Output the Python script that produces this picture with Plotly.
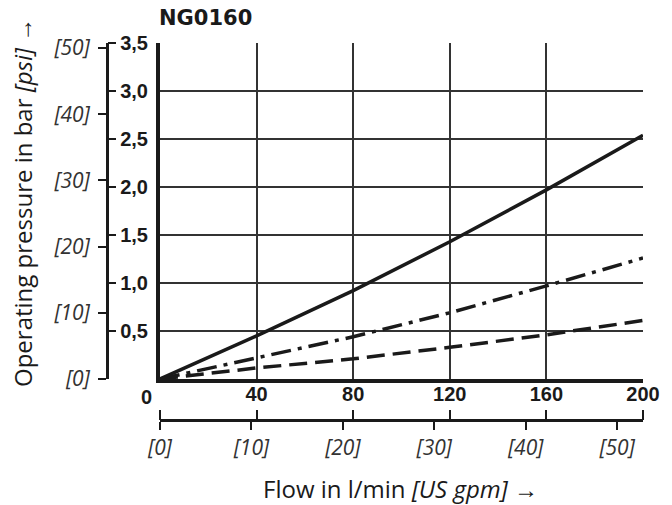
import plotly.graph_objects as go

# ---- data ----
flow_lpm = [0, 40, 80, 120, 160, 200]
p_solid = [0, 0.45, 0.92, 1.43, 1.97, 2.54]
p_dashdot = [0, 0.22, 0.44, 0.69, 0.97, 1.26]
p_dashed = [0, 0.115, 0.21, 0.33, 0.46, 0.61]

x_ticks = [40, 80, 120, 160, 200]
x_ticktext = ["40", "80", "120", "160", "200"]
y_ticks = [0.5, 1.0, 1.5, 2.0, 2.5, 3.0, 3.5]
y_ticktext = ["0,5", "1,0", "1,5", "2,0", "2,5", "3,0", "3,5"]
psi_ticks = [0, 10, 20, 30, 40, 50]
psi_ticktext = ["[0]", "[10]", "[20]", "[30]", "[40]", "[50]"]
gpm_ticks = [0, 10, 20, 30, 40, 50]
gpm_ticktext = ["[0]", "[10]", "[20]", "[30]", "[40]", "[50]"]
title_text = "NG0160"

BAR_TO_PSI = 14.5038
GPM_TO_LPM = 3.78541
X_MAX = 200
Y_MAX = 3.5

INK = "#1a1a1a"
BOLD = dict(family="Liberation Sans, Arial, sans-serif", size=20, color=INK, weight="bold")
ITAL = dict(family="Open Sans, sans-serif", size=21, color="#333333", style="italic")

fig = go.Figure()
fig.add_trace(go.Scatter(x=flow_lpm, y=p_solid, mode="lines",
                         line=dict(color=INK, width=3.5), showlegend=False))
fig.add_trace(go.Scatter(x=flow_lpm, y=p_dashdot, mode="lines",
                         line=dict(color=INK, width=3.5, dash="20px,7px,4px,7px"), showlegend=False))
fig.add_trace(go.Scatter(x=flow_lpm, y=p_dashed, mode="lines",
                         line=dict(color=INK, width=3.5, dash="18px,8px"), showlegend=False))

# invisible helper traces so the secondary scales get drawn
ghost = dict(mode="lines", line=dict(width=0, color="rgba(0,0,0,0)"), opacity=0,
             hoverinfo="skip", showlegend=False)
fig.add_trace(go.Scatter(x=flow_lpm, y=psi_ticks, xaxis="x", yaxis="y2", **ghost))
fig.add_trace(go.Scatter(x=flow_lpm, y=y_ticks[:6], xaxis="x", yaxis="y3", **ghost))
fig.add_trace(go.Scatter(x=gpm_ticks, y=y_ticks[:6], xaxis="x2", yaxis="y", **ghost))
fig.add_trace(go.Scatter(x=flow_lpm, y=y_ticks[:6], xaxis="x3", yaxis="y", **ghost))

W, H = 672, 505
ML, MR, MT, MB = 100, 29, 43, 75
PW = W - ML - MR
PH = H - MT - MB

def px_x(p):
    return (p - ML) / PW

def px_y(p):
    return (H - MB - p) / PH

fig.update_layout(
    width=W, height=H,
    margin=dict(l=ML, r=MR, t=MT, b=MB, pad=0),
    paper_bgcolor="white", plot_bgcolor="white",
    showlegend=False,
    xaxis=dict(
        domain=[px_x(160), 1], range=[0, X_MAX],
        tickmode="array", tickvals=x_ticks, showticklabels=False, ticks="",
        showgrid=True, gridcolor="#333333", gridwidth=1.5,
        showline=True, linecolor=INK, linewidth=4,
        zeroline=False, anchor="y", fixedrange=True,
    ),
    yaxis=dict(
        domain=[px_y(379), 1], range=[0, Y_MAX],
        tickmode="array", tickvals=y_ticks, ticktext=y_ticktext,
        tickfont=BOLD, ticks="", ticklabelstandoff=4,
        showgrid=True, gridcolor="#333333", gridwidth=1.5,
        showline=True, linecolor=INK, linewidth=4,
        zeroline=False, anchor="x", fixedrange=True,
    ),
    # psi scale (left ticks + labels)
    yaxis2=dict(
        overlaying="y", anchor="free", position=px_x(107), side="left",
        range=[0, Y_MAX * BAR_TO_PSI],
        tickmode="array", tickvals=psi_ticks, ticktext=psi_ticktext,
        tickfont=ITAL, ticks="outside", ticklen=8, tickwidth=2, tickcolor=INK,
        ticklabelstandoff=4,
        showline=True, linecolor=INK, linewidth=3,
        showgrid=False, zeroline=False, fixedrange=True,
    ),
    # bar ticks on the psi line (pointing right)
    yaxis3=dict(
        overlaying="y", anchor="free", position=px_x(107), side="right",
        range=[0, Y_MAX],
        tickmode="array", tickvals=y_ticks,
        showticklabels=False, ticks="outside", ticklen=8, tickwidth=2, tickcolor=INK,
        showline=False, showgrid=False, zeroline=False, fixedrange=True,
    ),
    # US gpm scale (downward ticks + labels)
    xaxis2=dict(
        overlaying="x", anchor="free", position=px_y(420), side="bottom",
        range=[0, X_MAX / GPM_TO_LPM],
        tickmode="array", tickvals=gpm_ticks, ticktext=gpm_ticktext,
        tickfont=ITAL, ticks="outside", ticklen=8, tickwidth=2, tickcolor=INK,
        showline=True, linecolor=INK, linewidth=3,
        showgrid=False, zeroline=False, fixedrange=True,
    ),
    # l/min scale on the gpm line (ticks pointing up, bold labels above)
    xaxis3=dict(
        overlaying="x", anchor="free", position=px_y(420), side="top",
        range=[0, X_MAX],
        tickmode="array", tickvals=[0] + x_ticks, ticktext=[""] + x_ticktext,
        tickfont=BOLD, ticklabelstandoff=1,
        ticks="outside", ticklen=10, tickwidth=2, tickcolor=INK,
        showline=False, showgrid=False, zeroline=False, fixedrange=True,
    ),
)

annotations = [
    dict(text="0", x=0, y=0, xref="x", yref="y", xanchor="center", yanchor="top",
         xshift=-14, yshift=-5, showarrow=False, font=BOLD),
    dict(text=title_text, x=px_x(157), y=px_y(18), xref="paper", yref="paper",
         xanchor="left", yanchor="middle", showarrow=False,
         font=dict(family="DejaVu Sans, sans-serif", size=21, color=INK, weight="bold")),
    dict(text="Operating pressure in bar <i>[psi]</i> →", x=px_x(22), y=px_y(203),
         xref="paper", yref="paper", xanchor="center", yanchor="middle", textangle=-90,
         showarrow=False, font=dict(family="Open Sans, sans-serif", size=24, color=INK)),
    dict(text="Flow in l/min <i>[US gpm]</i> →", x=px_x(400), y=px_y(488),
         xref="paper", yref="paper", xanchor="center", yanchor="middle",
         showarrow=False, font=dict(family="Open Sans, sans-serif", size=24, color=INK)),
]
fig.update_layout(annotations=annotations)

fig.write_html("out.html", config={"displayModeBar": False},
               post_script="document.body.style.margin='0';document.body.style.padding='0';")
